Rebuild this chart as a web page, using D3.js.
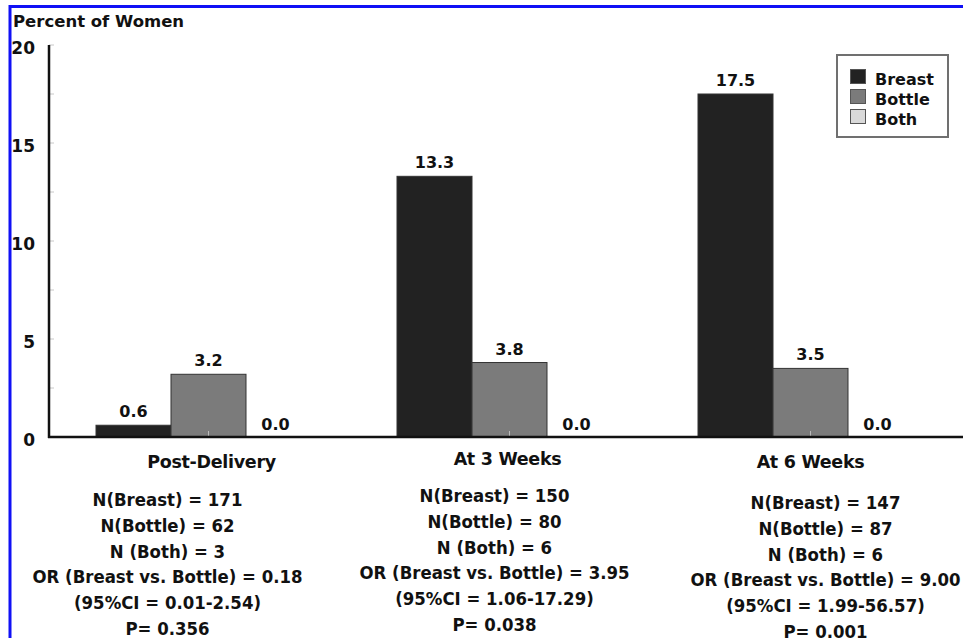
<!DOCTYPE html>
<html>
<head>
<meta charset="utf-8">
<script src="https://cdn.jsdelivr.net/npm/d3@7"></script>
<style>
  html, body { margin: 0; padding: 0; background: #fff; }
  svg { display: block; }
  .b { font-family: "DejaVu Sans", Verdana, sans-serif; font-weight: bold; fill: #111; }
  .c { font-family: "DejaVu Sans Condensed", "Liberation Sans Narrow", "DejaVu Sans", sans-serif; font-weight: bold; fill: #111; }
</style>
</head>
<body>
<svg id="chart" width="963" height="638"></svg>
<script>
// ---- data ----
const categories = ["Post-Delivery", "At 3 Weeks", "At 6 Weeks"];
const seriesNames = ["Breast", "Bottle", "Both"];
const breast = [0.6, 13.3, 17.5];
const bottle = [3.2, 3.8, 3.5];
const both = [0.0, 0.0, 0.0];
const yTicks = [0, 5, 10, 15, 20];
const yMinorTicks = [2.5, 7.5, 12.5, 17.5];
const yTitle = "Percent of Women";
const notesPostDelivery = ["N(Breast) = 171", "N(Bottle) = 62", "N (Both) = 3", "OR (Breast vs. Bottle) = 0.18", "(95%CI = 0.01-2.54)", "P= 0.356"];
const notes3Weeks = ["N(Breast) = 150", "N(Bottle) = 80", "N (Both) = 6", "OR (Breast vs. Bottle) = 3.95", "(95%CI = 1.06-17.29)", "P= 0.038"];
const notes6Weeks = ["N(Breast) = 147", "N(Bottle) = 87", "N (Both) = 6", "OR (Breast vs. Bottle) = 9.00", "(95%CI = 1.99-56.57)", "P= 0.001"];

const seriesValues = [breast, bottle, both];
const colors = ["#222222", "#7b7b7b", "#d9d9d9"];
const notes = [notesPostDelivery, notes3Weeks, notes6Weeks];

const svg = d3.select("#chart");

// blue frame
svg.append("rect").attr("x", 10).attr("y", 6.5).attr("width", 1000).attr("height", 700)
  .attr("fill", "none").attr("stroke", "#1010f5").attr("stroke-width", 3);

const y = d3.scaleLinear().domain([0, 20]).range([437, 45]);
const x0 = d3.scaleBand().domain(categories).range([58, 961]).paddingInner(0.2525).paddingOuter(0.12625);
const x1 = d3.scaleBand().domain(seriesNames).range([0, x0.bandwidth()]);

// y title
svg.append("text").attr("class", "b").attr("x", 13).attr("y", 27).attr("font-size", 16.5)
  .text(yTitle);

// y ticks (light)
const yAxisX = 49;
svg.append("g").selectAll("line").data(yTicks.concat(yMinorTicks)).join("line")
  .attr("x1", yAxisX).attr("x2", yAxisX + 5)
  .attr("y1", d => y(d)).attr("y2", d => y(d))
  .attr("stroke", "#c8c8c8").attr("stroke-width", 1);
svg.append("g").selectAll("text").data(yTicks).join("text")
  .attr("class", "b").attr("x", 35).attr("y", d => y(d) + 9)
  .attr("text-anchor", "end").attr("font-size", 17).text(d => d);

// bars
const groups = svg.append("g").selectAll("g").data(categories).join("g")
  .attr("transform", d => `translate(${x0(d)},0)`);
groups.each(function(cat, ci) {
  const g = d3.select(this);
  seriesNames.forEach((s, si) => {
    const v = seriesValues[si][ci];
    if (v > 0) {
      g.append("rect").attr("x", x1(s)).attr("y", y(v))
        .attr("width", x1.bandwidth()).attr("height", y(0) - y(v))
        .attr("fill", colors[si]).attr("stroke", "#333").attr("stroke-width", 1);
    }
    g.append("text").attr("class", "b").attr("x", x1(s) + x1.bandwidth() / 2 - (v > 0 ? 0 : 8))
      .attr("y", y(v) - (v > 0 ? 8 : 7)).attr("text-anchor", "middle").attr("font-size", 16)
      .text(v.toFixed(1));
  });
  // faint x tick
  g.append("line").attr("x1", x0.bandwidth() / 2).attr("x2", x0.bandwidth() / 2)
    .attr("y1", y(0) - 6).attr("y2", y(0)).attr("stroke", "#bbb").attr("stroke-width", 1);
});

// axes lines
svg.append("line").attr("x1", yAxisX).attr("x2", yAxisX).attr("y1", y(20)).attr("y2", y(0) + 1)
  .attr("stroke", "#111").attr("stroke-width", 2.5);
svg.append("line").attr("x1", yAxisX - 1).attr("x2", 963).attr("y1", y(0)).attr("y2", y(0))
  .attr("stroke", "#111").attr("stroke-width", 2.5);

// category labels
const catDx = [3, -2, 0];
const catDy = [0, -3, 0];
svg.append("g").selectAll("text").data(categories).join("text")
  .attr("class", "b").attr("x", (d, i) => x0(d) + x0.bandwidth() / 2 + catDx[i])
  .attr("y", (d, i) => 468 + catDy[i]).attr("text-anchor", "middle").attr("font-size", 17.5)
  .attr("letter-spacing", -0.3).text(d => d);

// notes below
const noteDx = [-41, -15, 15];
const noteTop = [506, 502, 509];
categories.forEach((cat, ci) => {
  svg.append("g").selectAll("text").data(notes[ci]).join("text")
    .attr("class", "c").attr("x", x0(cat) + x0.bandwidth() / 2 + noteDx[ci])
    .attr("y", (d, i) => noteTop[ci] + i * 25.8)
    .attr("text-anchor", "middle").attr("font-size", 18.4).text(d => d);
});

// legend
const lg = svg.append("g");
lg.append("rect").attr("x", 837).attr("y", 55).attr("width", 111).attr("height", 82)
  .attr("fill", "#fff").attr("stroke", "#707070").attr("stroke-width", 2);
seriesNames.forEach((s, i) => {
  lg.append("rect").attr("x", 850.5).attr("y", 69.5 + i * 20).attr("width", 15).attr("height", 14)
    .attr("fill", colors[i]).attr("stroke", "#555").attr("stroke-width", 1);
  lg.append("text").attr("class", "b").attr("x", 875).attr("y", 84.5 + i * 20)
    .attr("font-size", 16).text(s);
});
</script>
</body>
</html>
